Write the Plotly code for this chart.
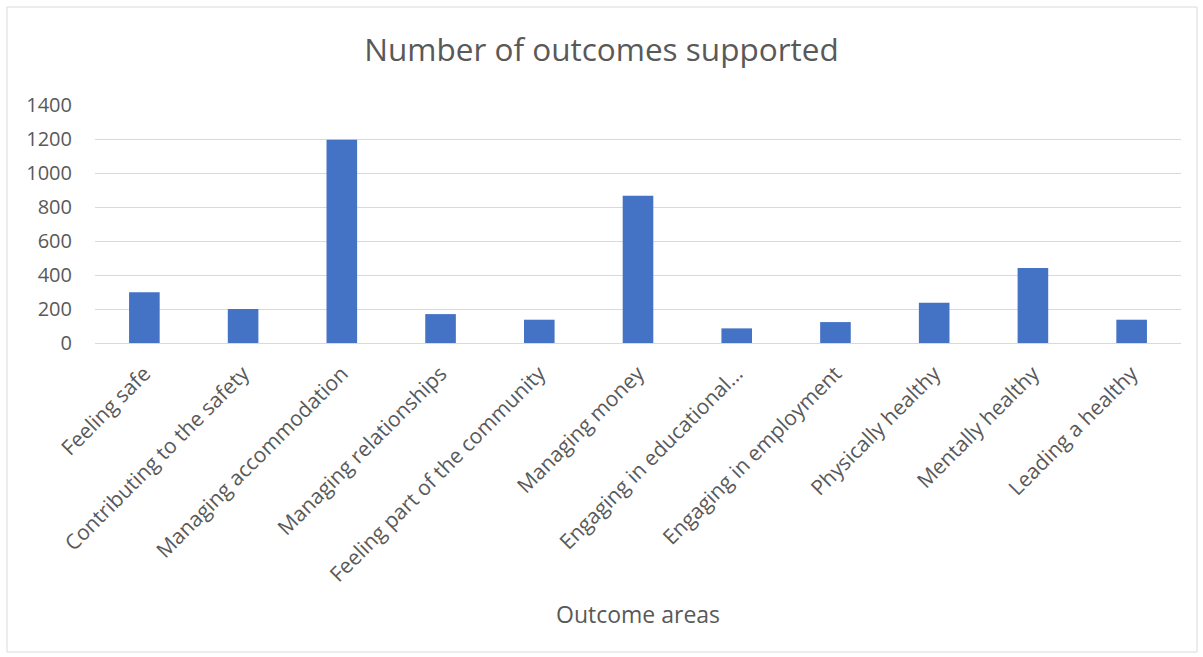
import plotly.graph_objects as go

categories = ["Feeling safe", "Contributing to the safety", "Managing accommodation",
              "Managing relationships", "Feeling part of the community", "Managing money",
              "Engaging in educational…", "Engaging in employment", "Physically healthy",
              "Mentally healthy", "Leading a healthy"]
values = [298, 200, 1196, 170, 137, 866, 86, 123, 237, 441, 137]
y_ticks = [0, 200, 400, 600, 800, 1000, 1200, 1400]

W, H = 1203, 657
L, R, T, B = 95, 22, 105, 314
TXT = "#595959"
FONT = "Open Sans"

fig = go.Figure(go.Bar(x=categories, y=values, marker_color="#4472C4",
                       marker_line_width=0))

pw = W - L - R
ph = H - T - B

def px_x(x):
    return (x - L) / pw

def px_y(y):
    return (H - B - y) / ph

fig.update_layout(
    width=W, height=H,
    margin=dict(l=L, r=R, t=T, b=B, autoexpand=False),
    paper_bgcolor="white", plot_bgcolor="white",
    bargap=0.69,
    showlegend=False,
    font=dict(family=FONT, color=TXT),
    title=dict(text="Number of outcomes supported", x=0.5, xanchor="center",
               y=1 - 50 / H, yanchor="middle", yref="container",
               font=dict(size=31.5, color=TXT, family=FONT)),
    xaxis=dict(tickangle=-45, tickfont=dict(size=21, color=TXT), showgrid=False,
               showline=True, linecolor="#D9D9D9", linewidth=1, ticks="",
               ticklabelstandoff=9, ticklabelshift=0),
    yaxis=dict(range=[0, 1400], tickvals=y_ticks, tickfont=dict(size=20, color=TXT),
               gridcolor="#D9D9D9", gridwidth=1, zeroline=False, showline=False,
               ticks="", ticklabelstandoff=22),
    shapes=[dict(type="rect", xref="paper", yref="paper",
                 x0=px_x(7), x1=px_x(1197), y0=px_y(652), y1=px_y(7),
                 line=dict(color="#D9D9D9", width=1), layer="below")],
    annotations=[dict(text="Outcome areas", xref="paper", yref="paper",
                      x=0.5, y=px_y(614), xanchor="center", yanchor="middle",
                      showarrow=False, font=dict(size=23, color=TXT, family=FONT))],
)

fig.write_html("out.html")
